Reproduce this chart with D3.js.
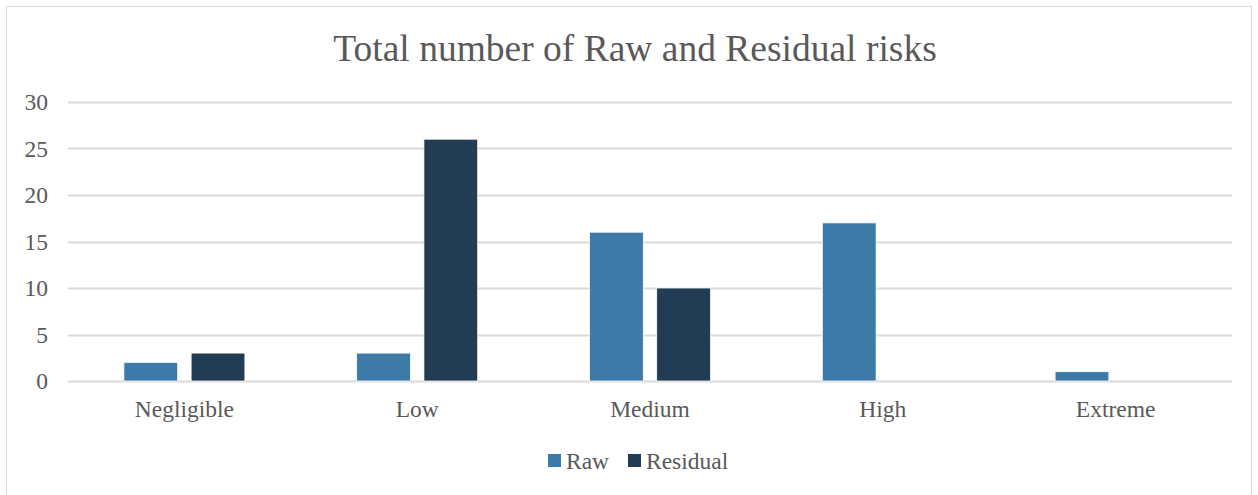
<!DOCTYPE html>
<html lang="en">
<head>
    <meta charset="UTF-8">
    <title>Total number of Raw and Residual risks</title>
    <script src="https://d3js.org/d3.v7.min.js"></script>
    <style>
        body { margin: 0; background: #fff; }
        text { font-family: "Liberation Serif", "Times New Roman", serif; fill: #595959; }
        .title { font-size: 37.5px; }
        .legend-label { font-size: 23.5px; }
    </style>
</head>
<body>
    <svg width="1258" height="495"></svg>

    <script>
        var categories = ["Negligible", "Low", "Medium", "High", "Extreme"];
        var seriesNames = ["Raw", "Residual"];
        var rawValues = [2, 3, 16, 17, 1];
        var residualValues = [3, 26, 10, 0, 0];
        var yTicks = [0, 5, 10, 15, 20, 25, 30];
        var colors = ["#3e7aa7", "#223d53"];

        var margin = { top: 102, right: 26, bottom: 114, left: 68 },
            width = 1258 - margin.left - margin.right,
            height = 495 - margin.top - margin.bottom;

        var root = d3.select("svg");

        // outer chart frame
        root.append("rect")
            .attr("x", 6.5).attr("y", 6.5)
            .attr("width", 1245).attr("height", 500)
            .attr("fill", "none")
            .attr("stroke", "#d9d9d9");

        root.append("text")
            .attr("class", "title")
            .attr("x", 635)
            .attr("y", 61)
            .attr("text-anchor", "middle")
            .text("Total number of Raw and Residual risks");

        var svg = root.append("g")
            .attr("transform", "translate(" + margin.left + "," + margin.top + ")");

        var x = d3.scaleBand().domain(categories).range([0, width]);
        var x1 = d3.scaleBand().domain(seriesNames).range([0, 121]).paddingInner(0.2);
        var y = d3.scaleLinear().domain([0, 30]).range([height, 0]);

        // gridlines
        svg.append("g")
            .selectAll("line")
            .data(yTicks)
            .join("line")
            .attr("x1", 0).attr("x2", width)
            .attr("y1", function(d) { return Math.round(y(d)) + 0.5; })
            .attr("y2", function(d) { return Math.round(y(d)) + 0.5; })
            .attr("stroke", "#d9d9d9")
            .attr("stroke-width", 2);

        // y axis labels
        var yAxis = svg.append("g")
            .call(d3.axisLeft(y).tickValues(yTicks).tickSize(0).tickPadding(20));
        yAxis.select(".domain").remove();
        yAxis.selectAll("text").attr("fill", "#595959")
            .style("font-size", "23.5px").style("font-family", "Liberation Serif, serif");

        // x axis labels
        var xAxis = svg.append("g")
            .attr("transform", "translate(0," + height + ")")
            .call(d3.axisBottom(x).tickSize(0).tickPadding(19));
        xAxis.select(".domain").remove();
        xAxis.selectAll("text").attr("fill", "#595959")
            .style("font-size", "23.5px").style("font-family", "Liberation Serif, serif");

        var data = categories.map(function(c, i) {
            return { cat: c, values: [rawValues[i], residualValues[i]] };
        });

        var groups = svg.append("g")
            .selectAll("g")
            .data(data)
            .join("g")
            .attr("transform", function(d) {
                return "translate(" + (x(d.cat) + x.bandwidth() / 2 - 60.5) + ",0)";
            });

        groups.selectAll("rect")
            .data(function(d) { return d.values.map(function(v, j) { return { name: seriesNames[j], value: v }; }); })
            .join("rect")
            .filter(function(d) { return d.value > 0; })
            .attr("x", function(d) { return x1(d.name); })
            .attr("y", function(d) { return y(d.value); })
            .attr("width", x1.bandwidth())
            .attr("height", function(d) { return height - y(d.value); })
            .attr("fill", function(d) { return colors[seriesNames.indexOf(d.name)]; })
            .attr("stroke", "#ffffff")
            .attr("stroke-width", 0.75);

        // legend
        var legend = root.append("g").attr("transform", "translate(548,454)");
        var legendX = [0, 80];
        seriesNames.forEach(function(name, i) {
            var g = legend.append("g").attr("transform", "translate(" + legendX[i] + ",0)");
            g.append("rect").attr("width", 13).attr("height", 13).attr("fill", colors[i]);
            g.append("text").attr("class", "legend-label")
                .attr("x", 18).attr("y", 15).text(name);
        });
    </script>
</body>
</html>
